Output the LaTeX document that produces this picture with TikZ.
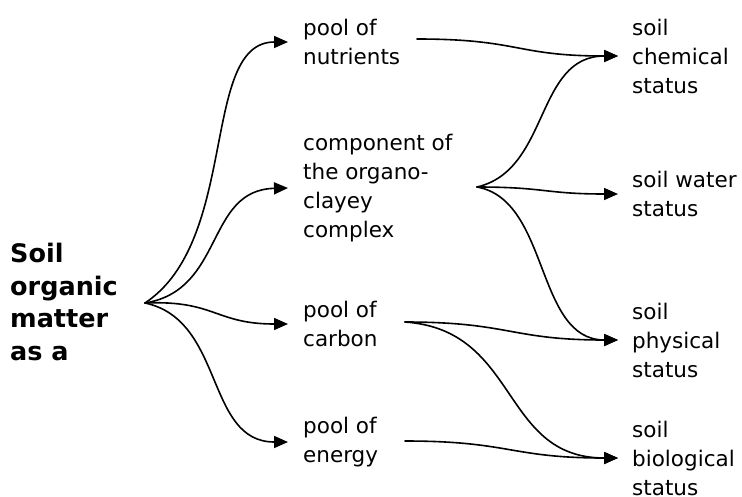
\documentclass[tikz,border=0pt]{standalone}
\usepackage{fontspec}
\setmainfont{DejaVu Sans}
\usetikzlibrary{arrows.meta}
\begin{document}
\begin{tikzpicture}[x=1pt,y=-1pt,
  txt/.style={anchor=west,inner sep=0pt,align=left,font={\fontsize{21.5}{29}\selectfont}},
  big/.style={anchor=west,inner sep=0pt,align=left,font={\fontsize{25.5}{32.5}\selectfont\bfseries}},
  conn/.style={line width=1.6pt,line cap=round},
  arr/.style={conn,-{Triangle[length=14pt,width=12pt]}}]
\useasboundingbox (0,0) rectangle (742,496);
% left
\node[big] (som) at (10,302) {Soil\\organic\\matter\\as a};
% middle column
\node[txt] (nut) at (303,42) {pool of\\nutrients};
\node[txt] (comp) at (303,188) {component of\\the organo-\\clayey\\complex};
\node[txt] (carb) at (303,324) {pool of\\carbon};
\node[txt] (ener) at (303,442) {pool of\\energy};
% right column
\node[txt] (chem) at (632,56) {soil\\chemical\\status};
\node[txt] (water) at (632,194) {soil water\\status};
\node[txt] (phys) at (632,340) {soil\\physical\\status};
\node[txt] (bio) at (632,458) {soil\\biological\\status};
% junctions
\coordinate (hub) at (145,303);
\coordinate (nutS) at (417,39);
\coordinate (compS) at (477,187);
\coordinate (carS) at (405,322);
\coordinate (enS) at (405,441);
% left fan
\draw[arr] (hub) .. controls (240,240) and (200,42) .. ([xshift=-15pt]nut.west);
\draw[arr] (hub) .. controls (225,290) and (205,190) .. ([xshift=-15pt]comp.west);
\draw[arr] (hub) .. controls (215,300) and (215,324) .. ([xshift=-15pt]carb.west);
\draw[arr] (hub) .. controls (225,320) and (205,442) .. ([xshift=-15pt]ener.west);
% right connections
\draw[arr] (nutS) .. controls (520,39) and (515,56) .. ([xshift=-14pt]chem.west);
\draw[arr] (compS) .. controls (550,170) and (535,56) .. ([xshift=-14pt]chem.west);
\draw[arr] (compS) .. controls (545,187) and (545,194) .. ([xshift=-14pt]water.west);
\draw[arr] (compS) .. controls (550,200) and (535,340) .. ([xshift=-14pt]phys.west);
\draw[arr] (carS) .. controls (510,322) and (510,340) .. ([xshift=-14pt]phys.west);
\draw[arr] (carS) .. controls (520,330) and (500,458) .. ([xshift=-14pt]bio.west);
\draw[arr] (enS) .. controls (510,441) and (510,458) .. ([xshift=-14pt]bio.west);
\end{tikzpicture}
\end{document}
